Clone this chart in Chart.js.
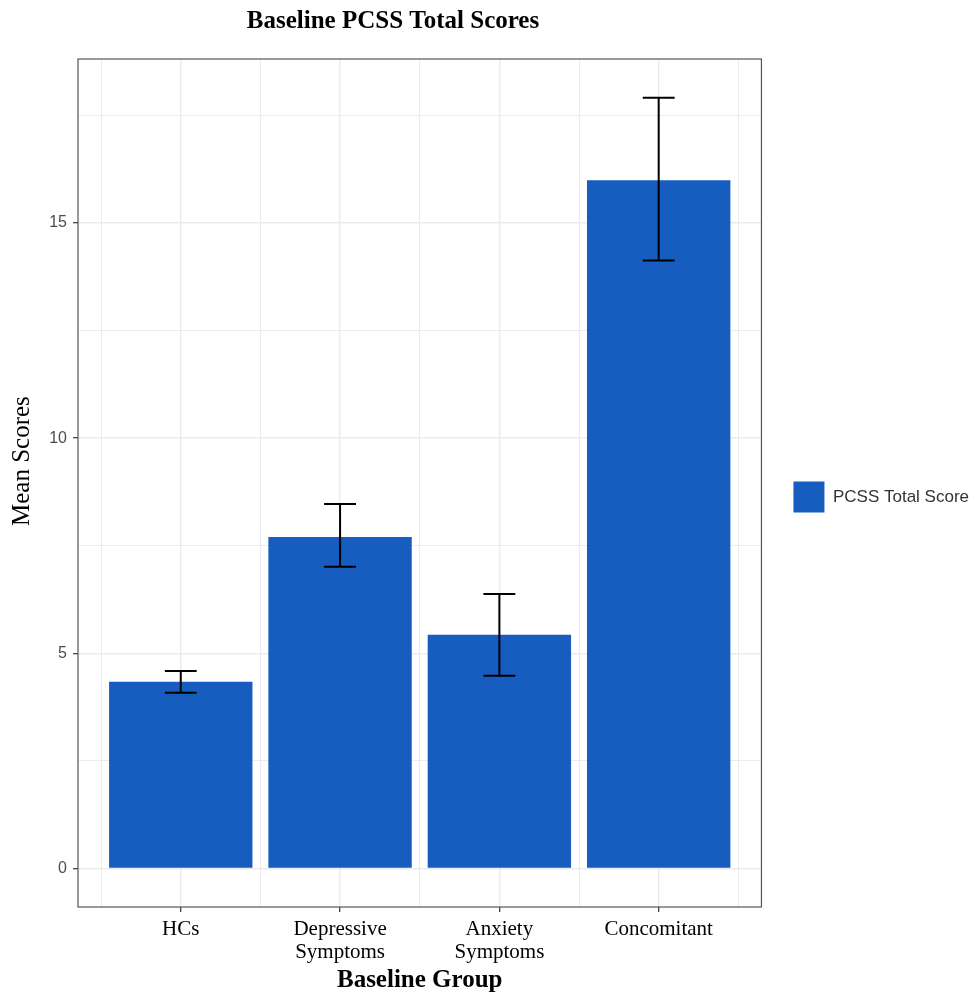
<!DOCTYPE html>
<html>
<head>
<meta charset="utf-8">
<title>Baseline PCSS Total Scores</title>
<script src="https://cdn.jsdelivr.net/npm/chart.js@4/dist/chart.umd.min.js"></script>
<style>
  html, body { margin: 0; padding: 0; background: #fff; }
  canvas { display: block; }
</style>
</head>
<body>
<canvas id="pcssChart" width="974" height="994"></canvas>
<script>
// values
const groups = [['HCs'], ['Depressive', 'Symptoms'], ['Anxiety', 'Symptoms'], ['Concomitant']];
const meanScores = [4.34, 7.70, 5.43, 15.99];
const errLower = [4.08, 7.01, 4.48, 14.13];
const errUpper = [4.59, 8.47, 6.38, 17.91];
const yTicks = [0, 2.5, 5, 7.5, 10, 12.5, 15, 17.5];
const yLabels = [0, 5, 10, 15];
const xTicks = [0.5, 1, 1.5, 2, 2.5, 3, 3.5, 4, 4.5];

const barColor = '#175DBF';
const gridColor = '#EBEBEB';
const serif = '"Liberation Serif", "Times New Roman", serif';

Chart.defaults.font.family = '"Liberation Sans", Arial, sans-serif';

const barData = groups.map((g, i) => ({ x: i + 1, y: meanScores[i] }));
const isMajorX = c => !!c.tick && Number.isInteger(c.tick.value);
const isMajorY = c => !!c.tick && yLabels.includes(c.tick.value);

// panel frame + error bars + title, drawn after the bars
const extras = {
    id: 'extras',
    afterDatasetsDraw(chart) {
        const ctx = chart.ctx;
        const xs = chart.scales.x;
        const ys = chart.scales.y;
        const half = xs.getPixelForValue(1.1) - xs.getPixelForValue(1);

        ctx.save();
        ctx.strokeStyle = '#000';
        ctx.lineWidth = 2;
        groups.forEach((g, i) => {
            const x = xs.getPixelForValue(i + 1);
            const yTop = ys.getPixelForValue(errUpper[i]);
            const yBot = ys.getPixelForValue(errLower[i]);
            ctx.beginPath();
            ctx.moveTo(x, yTop); ctx.lineTo(x, yBot);
            ctx.moveTo(x - half, yTop); ctx.lineTo(x + half, yTop);
            ctx.moveTo(x - half, yBot); ctx.lineTo(x + half, yBot);
            ctx.stroke();
        });

        const a = chart.chartArea;
        ctx.strokeStyle = '#555';
        ctx.lineWidth = 1.2;
        ctx.strokeRect(a.left, a.top, a.right - a.left, a.bottom - a.top);

        ctx.fillStyle = '#000';
        ctx.font = 'bold 25px ' + serif;
        ctx.textAlign = 'center';
        ctx.textBaseline = 'alphabetic';
        ctx.fillText('Baseline PCSS Total Scores', 393, 28);
        ctx.restore();
    }
};

new Chart(document.getElementById('pcssChart').getContext('2d'), {
    type: 'bar',
    data: {
        datasets: [{
            label: 'PCSS Total Score',
            data: barData,
            backgroundColor: barColor,
            borderWidth: 0,
            // ruler step is the 0.5 minor tick spacing, so 1.8 x 0.5 = 0.9 of a group
            categoryPercentage: 1.8,
            barPercentage: 1.0
        }]
    },
    options: {
        responsive: false,
        animation: false,
        layout: { padding: { top: 0, right: -5, left: 0, bottom: 0 } },
        plugins: {
            // empty title only keeps the top band free; the text is drawn by `extras`
            title: {
                display: true,
                text: '',
                fullSize: false,
                padding: { top: 0, bottom: 0 },
                font: { size: 59, lineHeight: 1 }
            },
            legend: {
                position: 'right',
                align: 'center',
                labels: {
                    boxWidth: 31,
                    boxHeight: 31,
                    padding: 32,
                    color: '#333',
                    font: { size: 17 }
                }
            },
            tooltip: { enabled: false }
        },
        scales: {
            x: {
                type: 'linear',
                offset: false,
                min: 0.355,
                max: 4.645,
                afterBuildTicks: scale => { scale.ticks = xTicks.map(v => ({ value: v })); },
                afterFit: scale => { scale.height = 87; },
                border: { display: false },
                grid: {
                    offset: false,
                    color: gridColor,
                    lineWidth: c => isMajorX(c) ? 1.4 : 1.0,
                    tickLength: 5,
                    tickColor: c => isMajorX(c) ? '#333' : 'rgba(0,0,0,0)',
                    tickWidth: 1.2
                },
                ticks: {
                    autoSkip: false,
                    maxRotation: 0,
                    padding: 6,
                    color: '#000',
                    font: { family: serif, size: 21, lineHeight: 1.1 },
                    callback: v => Number.isInteger(v) ? groups[v - 1] : ''
                },
                title: {
                    display: true,
                    text: 'Baseline Group',
                    color: '#000',
                    font: { family: serif, size: 25, weight: 'bold', lineHeight: 1.1 },
                    padding: { top: 0, bottom: 0 }
                }
            },
            y: {
                min: -0.896,
                max: 18.81,
                afterBuildTicks: scale => { scale.ticks = yTicks.map(v => ({ value: v })); },
                afterFit: scale => { scale.width = 78; },
                border: { display: false },
                grid: {
                    color: gridColor,
                    lineWidth: c => isMajorY(c) ? 1.4 : 1.0,
                    tickLength: 5,
                    tickColor: c => isMajorY(c) ? '#333' : 'rgba(0,0,0,0)',
                    tickWidth: 1.2
                },
                ticks: {
                    padding: 6,
                    color: '#4D4D4D',
                    font: { size: 16 },
                    callback: v => yLabels.includes(v) ? String(v) : ''
                },
                title: {
                    display: true,
                    // leading spaces nudge the label up a little, as in the original
                    text: '       Mean Scores',
                    color: '#000',
                    font: { family: serif, size: 25, lineHeight: 1.1 },
                    padding: { top: 9, bottom: 0 }
                }
            }
        }
    },
    plugins: [extras]
});
</script>
</body>
</html>
